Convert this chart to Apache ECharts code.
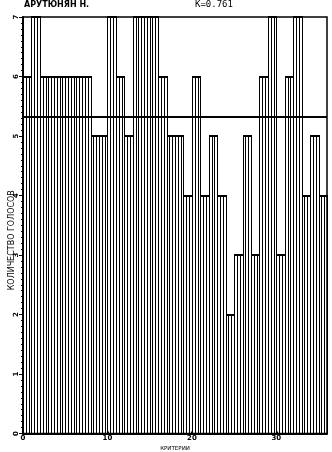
<!DOCTYPE html>
<html>
<head>
<meta charset="utf-8">
<script src="https://cdn.jsdelivr.net/npm/echarts@6/dist/echarts.min.js"></script>
<style>
html,body{margin:0;padding:0;background:#fff;}
#chart{width:332px;height:452px;}
</style>
</head>
<body>
<div id="chart"></div>
<script>
var titleName = 'АРУТЮНЯН Н.';
var titleK = 'К=0.761';
var criteria = [1,2,3,4,5,6,7,8,9,10,11,12,13,14,15,16,17,18,19,20,21,22,23,24,25,26,27,28,29,30,31,32,33,34,35,36];
var votes = [6,7,6,6,6,6,6,6,5,5,7,6,5,7,7,7,6,5,5,4,6,4,5,4,2,3,5,3,6,7,3,6,7,4,5,4];
var xTicks = [0,10,20,30];
var yTicks = [0,1,2,3,4,5,6,7];

var meanVotes = votes.reduce(function(a,b){return a+b;},0) / votes.length;

var chart = echarts.init(document.getElementById('chart'), null, {renderer:'canvas'});

function renderBar(params, api){
  var left = api.value(0) - 1;
  var v = api.value(1);
  var base = api.coord([left, 0]);
  var topL = api.coord([left, v]);
  var topR = api.coord([left + 1, v]);
  var children = [];
  [0, 1/3, 2/3, 1].forEach(function(f){
    var p = api.coord([left + f, v]);
    var x = Math.round(p[0]) + 0.5;
    children.push({type:'line', shape:{x1:x, y1:Math.round(topL[1]), x2:x, y2:base[1]},
      style:{stroke:'#000', lineWidth:1}});
  });
  var yt = Math.round(topL[1]);
  children.push({type:'line', shape:{x1:Math.round(topL[0]), y1:yt, x2:Math.round(topR[0])+1, y2:yt},
    style:{stroke:'#000', lineWidth:2}});
  return {type:'group', children:children};
}

chart.setOption({
  animation:false,
  backgroundColor:'#fff',
  graphic:[
    {type:'text', left:24, top:1, style:{text:titleName, font:'bold 8px "DejaVu Sans"', fill:'#000'}},
    {type:'text', left:195, top:0, style:{text:titleK, font:'9px "DejaVu Sans Mono"', fill:'#000'}}
  ],
  grid:{left:23, right:5, top:17, bottom:18.5, show:true, borderColor:'#000', borderWidth:1.5,
    backgroundColor:'transparent', containLabel:false, outerBoundsMode:'none'},
  xAxis:{
    type:'value', min:0, max:36, interval:10,
    name:'КРИТЕРИИ', nameLocation:'middle', nameGap:12, nameMoveOverlap:false,
    nameTextStyle:{fontSize:5.5, fontFamily:'DejaVu Sans', color:'#000'},
    axisLine:{show:true, lineStyle:{color:'#000', width:2}},
    axisTick:{show:true, length:2, inside:true, lineStyle:{color:'#000', width:2}},
    axisLabel:{fontSize:7, fontWeight:'bold', color:'#000', margin:1, fontFamily:'DejaVu Sans',
      showMaxLabel:false,
      formatter:function(v){return xTicks.indexOf(v) >= 0 ? String(v) : '';}},
    splitLine:{show:false}
  },
  yAxis:{
    type:'value', min:0, max:7, interval:1,
    name:'КОЛИЧЕСТВО ГОЛОСОВ', nameLocation:'middle', nameGap:7, nameMoveOverlap:false,
    nameTextStyle:{fontSize:8, fontFamily:'DejaVu Sans', color:'#000', padding:[0,30,0,0]},
    axisLine:{show:true, lineStyle:{color:'#000', width:2}},
    axisTick:{show:true, length:4, lineStyle:{color:'#000', width:1}},
    minorTick:{show:true, splitNumber:10, length:2, lineStyle:{color:'#000', width:1}},
    axisLabel:{fontSize:7, fontWeight:'bold', color:'#000', margin:3, rotate:90, fontFamily:'DejaVu Sans',
      formatter:function(v){return yTicks.indexOf(v) >= 0 ? String(v) : '';}},
    splitLine:{show:false}
  },
  series:[{
    type:'custom',
    renderItem:renderBar,
    encode:{x:0, y:1},
    data:criteria.map(function(c,i){return [c, votes[i]];}),
    clip:false,
    markLine:{
      silent:true, symbol:'none', label:{show:false},
      lineStyle:{color:'#000', width:2, type:'solid'},
      data:[{yAxis:meanVotes}]
    }
  }]
});
</script>
</body>
</html>
